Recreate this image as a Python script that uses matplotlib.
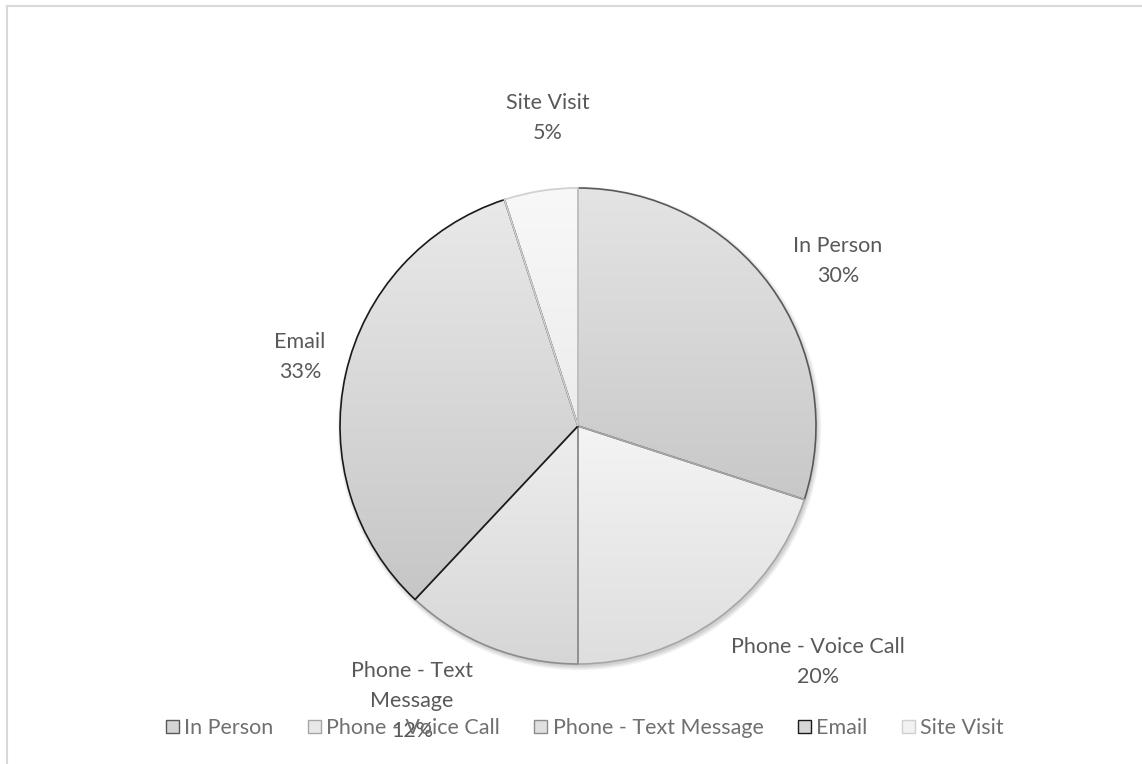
import numpy as np
import matplotlib.pyplot as plt
from matplotlib.colors import to_rgb
from matplotlib.patches import Patch, Circle

# contact method shares
categories = ['In Person', 'Phone - Voice Call', 'Phone - Text Message', 'Email', 'Site Visit']
label_text = ['In Person', 'Phone - Voice Call', 'Phone - Text\nMessage', 'Email', 'Site Visit']
shares = [30, 20, 12, 33, 5]

# per-slice style: gradient top/bottom grey and outline
grad_top = ['#e4e4e4', '#f4f4f4', '#eeeeee', '#e9e9e9', '#f8f8f8']
grad_bottom = ['#c8c8c8', '#dedede', '#d6d6d6', '#c6c6c6', '#ececec']
edge_colors = ['#595959', '#a6a6a6', '#8c8c8c', '#1a1a1a', '#d0d0d0']
legend_fill = ['#d4d4d4', '#e8e8e8', '#e0e0e0', '#d6d6d6', '#f2f2f2']

# label anchor points (pixels, y down)
label_xy = [(838, 261), (818, 662), (412, 701), (300, 357), (548, 118)]

W, H = 1142, 764
cx, cy, R = 578, H - 426, 238
text_color = '#595959'
plt.rcParams['font.family'] = ['Lato', 'DejaVu Sans']

fig = plt.figure(figsize=(W / 100, H / 100), dpi=100)
ax = fig.add_axes([0, 0, 1, 1])

# soft drop shadow under the pie
for k in range(8):
    ax.add_patch(Circle((cx + 1.5, cy - 2.5), R + 4 - k * 0.6, color='black',
                        alpha=0.025, lw=0, zorder=0))

wedges, _ = ax.pie(shares, startangle=90, counterclock=False,
                   center=(cx, cy), radius=R,
                   wedgeprops=dict(linewidth=1.2))

grad = np.linspace(0, 1, 256)[:, None]
for w, top, bot, ec in zip(wedges, grad_top, grad_bottom, edge_colors):
    verts = w.get_path().vertices
    x0, y0 = verts.min(axis=0)
    x1, y1 = verts.max(axis=0)
    c_top = np.array(to_rgb(top))
    c_bot = np.array(to_rgb(bot))
    img = c_top[None, None, :] * (1 - grad[..., None]) + c_bot[None, None, :] * grad[..., None]
    im = ax.imshow(img, extent=(x0, x1, y0, y1), origin='upper', zorder=1,
                   interpolation='bilinear', aspect='auto')
    im.set_clip_path(w)
    w.set_facecolor('none')
    w.set_edgecolor(ec)
    w.set_zorder(2)

total = sum(shares)
for txt, val, (lx, ly) in zip(label_text, shares, label_xy):
    ax.text(lx, H - ly, f'{txt}\n{val / total * 100:.0f}%', ha='center', va='center',
            fontsize=15.5, color=text_color, linespacing=1.62, zorder=5)

# chart area border
ax.plot([6.5, 6.5], [-10, H - 5.5], color='#d9d9d9', lw=1.5, zorder=6)
ax.plot([6.5, W + 10], [H - 5.5, H - 5.5], color='#d9d9d9', lw=1.5, zorder=6)

handles = [Patch(facecolor=fc, edgecolor=ec, linewidth=1.0)
           for fc, ec in zip(legend_fill, edge_colors)]
fig.legend(handles, categories, loc='center', ncol=5, frameon=False,
           bbox_to_anchor=(585 / W, 1 - 728 / H), fontsize=15.5,
           labelcolor='#707070', handlelength=0.6, handleheight=0.6,
           handletextpad=0.25, columnspacing=1.6)

ax.set_xlim(0, W)
ax.set_ylim(0, H)
ax.set_aspect('equal')
ax.axis('off')

fig.savefig('out.png', dpi=100, facecolor='white')
